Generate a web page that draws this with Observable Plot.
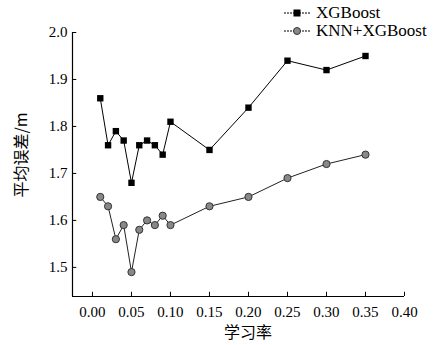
<!DOCTYPE html>
<html><head><meta charset="utf-8">
<script src="https://cdn.jsdelivr.net/npm/d3@7"></script>
<script src="https://cdn.jsdelivr.net/npm/@observablehq/plot@0.6"></script>
<style>
body{margin:0;background:#fff;}
#wrap{position:relative;width:443px;height:345px;}
#wrap svg text{font-family:"Liberation Serif",serif !important;}
.leg{position:absolute;left:284px;font-family:"Liberation Serif",serif;font-size:17px;color:#000;display:flex;align-items:center;line-height:17px;}
.leg svg{margin-right:6px;}
</style></head>
<body><div id="wrap"></div>
<script>
const learningRate = [0.01,0.02,0.03,0.04,0.05,0.06,0.07,0.08,0.09,0.10,0.15,0.20,0.25,0.30,0.35];
const xgboost = [1.86,1.76,1.79,1.77,1.68,1.76,1.77,1.76,1.74,1.81,1.75,1.84,1.94,1.92,1.95];
const knnXgboost = [1.65,1.63,1.56,1.59,1.49,1.58,1.60,1.59,1.61,1.59,1.63,1.65,1.69,1.72,1.74];
const xTicks = [0.00,0.05,0.10,0.15,0.20,0.25,0.30,0.35,0.40];
const yTicks = [1.5,1.6,1.7,1.8,1.9,2.0];
const seriesNames = ["XGBoost","KNN+XGBoost"];

const d1 = learningRate.map((x,i)=>({x, y: xgboost[i]}));
const d2 = learningRate.map((x,i)=>({x, y: knnXgboost[i]}));
const xDom = [-0.0256, 0.40];
const yDom = [1.438, 2.0];

const chart = Plot.plot({
  width: 443, height: 345,
  marginLeft: 72, marginRight: 39, marginTop: 32, marginBottom: 49,
  style: {fontFamily: "Liberation Serif, serif", fontSize: "15px", color: "#000", background: "#fff"},
  x: {domain: xDom, ticks: xTicks, tickFormat: d3.format(".2f")},
  y: {domain: yDom, ticks: yTicks, tickFormat: d3.format(".1f")},
  marks: [
    Plot.ruleX([xDom[0]], {y1: yDom[0], y2: yDom[1], stroke: "#000", strokeWidth: 1.2}),
    Plot.ruleY([yDom[0]], {x1: xDom[0], x2: xDom[1], stroke: "#000", strokeWidth: 1.2}),
    Plot.ruleX(xTicks, {x: d => d, y1: yDom[0], y2: yDom[0] + 0.009, stroke: "#000", strokeWidth: 1}),
    Plot.ruleY(yTicks, {y: d => d, x1: xDom[0], x2: xDom[0] + 0.0055, stroke: "#000", strokeWidth: 1}),
    Plot.axisX({ticks: xTicks, tickSize: 0, tickPadding: 10, tickFormat: d3.format(".2f"), label: null, fontSize: 15}),
    Plot.axisY({ticks: yTicks, tickSize: 0, tickPadding: 5, tickFormat: d3.format(".1f"), label: null, fontSize: 15}),
    Plot.line(d1, {x: "x", y: "y", stroke: "#000", strokeWidth: 1}),
    Plot.line(d2, {x: "x", y: "y", stroke: "#222", strokeWidth: 1}),
    Plot.dot(d1, {x: "x", y: "y", symbol: "square", r: 3.6, fill: "#000", stroke: "none"}),
    Plot.dot(d2, {x: "x", y: "y", symbol: "circle", r: 3.6, fill: "#888", stroke: "#333", strokeWidth: 1})
  ]
});
const wrap = document.getElementById("wrap");
wrap.appendChild(chart);

// axis titles
const yl = document.createElement("div");
yl.textContent = "平均误差/m";
yl.style.cssText = 'position:absolute;left:20px;top:155px;transform:translate(-50%,-50%) rotate(-90deg);font-family:"Noto Sans CJK SC",sans-serif;font-size:16px;line-height:16px;white-space:nowrap;color:#000;';
wrap.appendChild(yl);
const xl = document.createElement("div");
xl.textContent = "学习率";
xl.style.cssText = 'position:absolute;left:248px;top:331px;transform:translate(-50%,-50%);font-family:"Noto Sans CJK SC",sans-serif;font-size:16px;line-height:16px;white-space:nowrap;color:#000;';
wrap.appendChild(xl);

// legend
const markers = [
  '<rect x="9.5" y="2.5" width="7" height="7" fill="#000"/>',
  '<circle cx="13" cy="6" r="3.5" fill="#888" stroke="#333" stroke-width="1"/>'
];
seriesNames.forEach((name,i)=>{
  const d = document.createElement("div");
  d.className = "leg";
  d.style.top = (4 + i*18) + "px";
  d.innerHTML = '<svg width="26" height="12"><line x1="0" y1="6" x2="26" y2="6" stroke="#000" stroke-width="1" stroke-dasharray="2,1"/>' + markers[i] + '</svg>' + name;
  wrap.appendChild(d);
});
</script>
</body></html>
